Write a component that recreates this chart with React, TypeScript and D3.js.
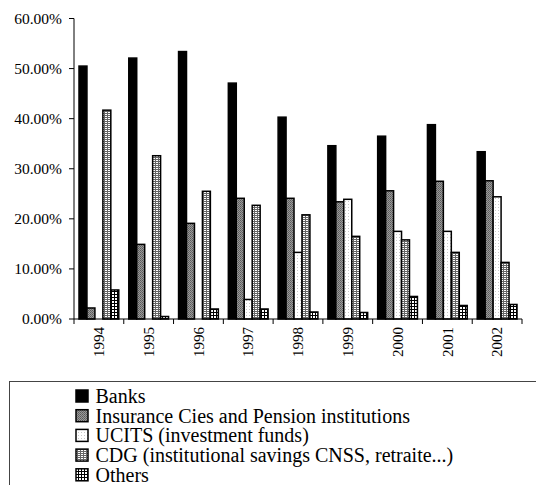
import React from "react";
import * as d3 from "d3";

const years = ["1994", "1995", "1996", "1997", "1998", "1999", "2000", "2001", "2002"];
const seriesNames = [
  "Banks",
  "Insurance Cies and Pension institutions",
  "UCITS (investment funds)",
  "CDG (institutional savings CNSS, retraite...)",
  "Others",
];
const banks = [50.5, 52.1, 53.4, 47.1, 40.3, 34.6, 36.5, 38.8, 33.4];
const insurance = [2.2, 14.9, 19.1, 24.1, 24.1, 23.4, 25.6, 27.5, 27.6];
const ucits = [0, 0, 0, 3.9, 13.3, 23.9, 17.5, 17.5, 24.4];
const cdg = [41.7, 32.6, 25.5, 22.7, 20.8, 16.5, 15.8, 13.3, 11.3];
const others = [5.8, 0.5, 2.0, 2.0, 1.4, 1.3, 4.5, 2.7, 2.9];
const yTicks = [0, 10, 20, 30, 40, 50, 60];

const seriesValues = [banks, insurance, ucits, cdg, others];
const fills = ["#000", "url(#pIns)", "url(#pUc)", "url(#pCdg)", "url(#pOth)"];

export default function App() {
  const x0 = 74, x1 = 522, yTop = 18.5, yBot = 319;
  const x = d3.scaleBand<string>().domain(years).range([x0, x1]).paddingInner(0).paddingOuter(0);
  const y = d3.scaleLinear().domain([0, 60]).range([yBot, yTop]);
  const cw = x.bandwidth();
  const gap = 10;
  const bw = (cw - gap) / 5;
  const font = "Liberation Serif, DejaVu Serif, serif";

  return (
    <svg width={536} height={485} style={{ position: "absolute", left: 0, top: 0, display: "block", fontFamily: font }}>
      <defs>
        <pattern id="pIns" width={2} height={2} patternUnits="userSpaceOnUse">
          <rect width={2} height={2} fill="#9a9a9a" />
          <rect width={1} height={1} fill="#5a5a5a" />
          <rect x={1} y={1} width={1} height={1} fill="#6a6a6a" />
        </pattern>
        <pattern id="pUc" width={3} height={3} patternUnits="userSpaceOnUse">
          <rect width={3} height={3} fill="#fff" />
          <rect width={1} height={1} fill="#c8c8c8" />
        </pattern>
        <pattern id="pCdg" width={3} height={2} patternUnits="userSpaceOnUse">
          <rect width={3} height={2} fill="#666" />
          <rect x={0} y={0} width={2} height={1} fill="#fff" />
        </pattern>
        <pattern id="pOth" width={3} height={3} patternUnits="userSpaceOnUse">
          <rect width={3} height={3} fill="#fff" />
          <rect x={0} y={0} width={3} height={1} fill="#000" />
          <rect x={0} y={0} width={1} height={3} fill="#000" />
        </pattern>
      </defs>

      {years.map((yr, i) => (
        <g key={yr}>
          {seriesValues.map((vals, s) => {
            const v = vals[i];
            if (v <= 0) return null;
            const bx = (x(yr) as number) + gap / 2 + s * bw;
            return (
              <rect
                key={s}
                x={bx}
                y={y(v)}
                width={bw}
                height={yBot - y(v)}
                fill={fills[s]}
                stroke="#000"
                strokeWidth={1.5}
              />
            );
          })}
        </g>
      ))}

      <line x1={x0} x2={x0} y1={yTop} y2={yBot} stroke="#000" strokeWidth={1} />
      {yTicks.map((t) => (
        <g key={t}>
          <line x1={x0 - 5} x2={x0} y1={y(t)} y2={y(t)} stroke="#000" />
          <text x={62} y={y(t)} dy="0.35em" textAnchor="end" fontSize={15.5} style={{ fontFamily: font }}>
            {t.toFixed(2)}%
          </text>
        </g>
      ))}

      <line x1={x0} x2={x1} y1={yBot} y2={yBot} stroke="#000" strokeWidth={1} />
      {years.map((yr) => (
        <line key={"t" + yr} x1={x(yr)} x2={x(yr)} y1={yBot} y2={yBot + 5} stroke="#000" />
      ))}
      <line x1={x1} x2={x1} y1={yBot} y2={yBot + 5} stroke="#000" />
      {years.map((yr) => {
        const cx = (x(yr) as number) + cw / 2;
        return (
          <text
            key={"l" + yr}
            transform={`translate(${cx},${327}) rotate(-90)`}
            textAnchor="end"
            dy="0.35em"
            fontSize={15}
            style={{ fontFamily: font }}
          >
            {yr}
          </text>
        );
      })}

      <rect x={9.5} y={381.5} width={540} height={120} fill="none" stroke="#444" strokeWidth={1} />
      {seriesNames.map((name, s) => {
        const ly = 390 + s * 19.7;
        return (
          <g key={name}>
            <rect x={76} y={ly} width={12} height={12} fill={fills[s]} stroke="#000" strokeWidth={1.5} />
            <text x={95.5} y={ly + 13} fontSize={20} style={{ fontFamily: font }}>
              {name}
            </text>
          </g>
        );
      })}
    </svg>
  );
}
